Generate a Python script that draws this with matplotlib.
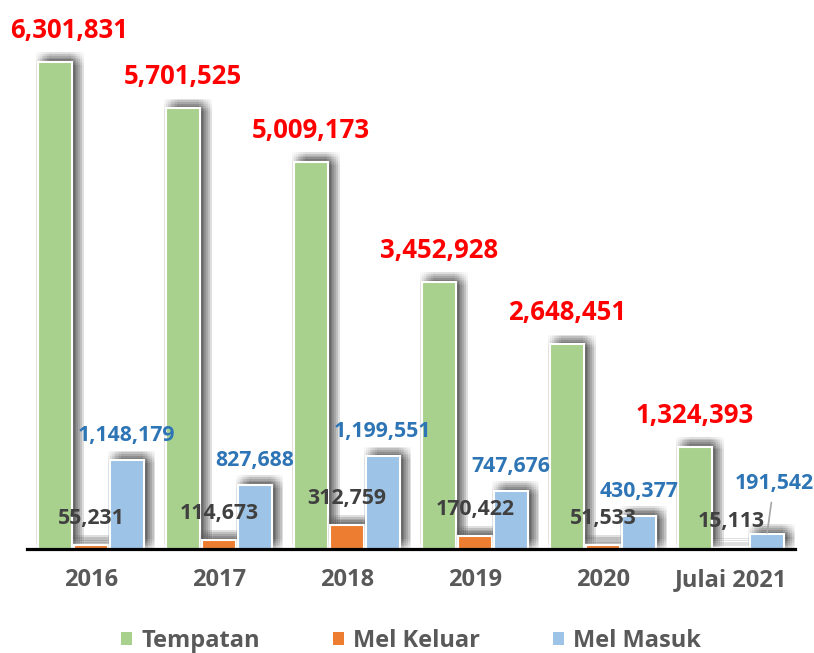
import matplotlib
matplotlib.use("Agg")
import matplotlib.pyplot as plt
from matplotlib import patheffects as pe
from matplotlib.patches import Rectangle
import numpy as np

categories = ['2016', '2017', '2018', '2019', '2020', 'Julai 2021']
tempatan = [6301831, 5701525, 5009173, 3452928, 2648451, 1324393]
mel_keluar = [55231, 114673, 312759, 170422, 51533, 15113]
mel_masuk = [1148179, 827688, 1199551, 747676, 430377, 191542]
series_names = ['Tempatan', 'Mel Keluar', 'Mel Masuk']

c_green = '#A9D18E'
c_orange = '#ED7D31'
c_blue = '#9DC3E6'

plt.rcParams['font.family'] = ['Open Sans', 'DejaVu Sans']
plt.rcParams['font.weight'] = 'bold'

W, H = 814, 653
fig = plt.figure(figsize=(W / 100, H / 100), dpi=100)
ax = fig.add_axes([27 / W, (H - 549) / H, 768 / W, 541 / H])

x = np.arange(len(categories))
bw = 0.272
off = 0.281

shadow = []
steps = np.linspace(-4.5, 4.5, 8)
for dx in steps:
    for dy in steps:
        shadow.append(pe.SimplePatchShadow(offset=(3.5 + dx, 2.5 + dy),
                                           shadow_rgbFace='black', alpha=0.014))
shadow.append(pe.Normal())

for i, (vals, col) in enumerate(zip([tempatan, mel_keluar, mel_masuk],
                                    [c_green, c_orange, c_blue])):
    b = ax.bar(x + (i - 1) * off, vals, width=bw, color=col,
               edgecolor='white', linewidth=1.5, zorder=2)
    for p in b:
        p.set_path_effects(shadow)

ax.set_xlim(-0.5, len(categories) - 0.5)
ax.set_ylim(0, 7e6)

for s in ['left', 'right', 'top']:
    ax.spines[s].set_visible(False)
ax.spines['bottom'].set_linewidth(2.3)
ax.spines['bottom'].set_color('black')
ax.spines['bottom'].set_zorder(5)
ax.set_yticks([])
ax.set_xticks(x)
ax.set_xticklabels(categories, fontsize=17, color='#595959', fontweight='bold')
ax.tick_params(axis='x', length=0, pad=14)

def fmt(v):
    return f"{v:,}"

# Tempatan labels (red)
for i, v in enumerate(tempatan):
    dxp = 14 if i == 0 else 0
    ax.annotate(fmt(v), xy=(x[i] - off, v), xytext=(dxp, 24),
                textcoords='offset pixels', ha='center', va='baseline',
                fontsize=18.5, fontweight='bold', color='#FF0000',
                annotation_clip=False, zorder=6)

# Mel Keluar labels (dark gray)
for i, v in enumerate(mel_keluar):
    ax.annotate(fmt(v), xy=(x[i], v), xytext=(0, 21),
                textcoords='offset pixels', ha='center', va='baseline',
                fontsize=15.3, fontweight='bold', color='#404040',
                annotation_clip=False, zorder=6)

# Mel Masuk labels (blue)
for i, v in enumerate(mel_masuk):
    if i == len(mel_masuk) - 1:
        ax.annotate(fmt(v), xy=(x[i] + off, v), xytext=(7, 45),
                    textcoords='offset pixels', ha='center', va='baseline',
                    fontsize=15.3, fontweight='bold', color='#2E75B6',
                    annotation_clip=False, zorder=6,
                    arrowprops=dict(arrowstyle='-', color='#A6A6A6', lw=1.2,
                                    shrinkA=4, shrinkB=1))
    else:
        ax.annotate(fmt(v), xy=(x[i] + off, v), xytext=(0, 19),
                    textcoords='offset pixels', ha='center', va='baseline',
                    fontsize=15.3, fontweight='bold', color='#2E75B6',
                    annotation_clip=False, zorder=6)

handles = [Rectangle((0, 0), 1, 1, facecolor=c, edgecolor='none')
           for c in [c_green, c_orange, c_blue]]
leg = fig.legend(handles, series_names, loc='center', ncol=3,
                 bbox_to_anchor=(0.505, (H - 641) / H), frameon=False,
                 handlelength=0.45, handleheight=0.45, handletextpad=0.4,
                 columnspacing=3.1, prop={'size': 17, 'weight': 'bold'})
for t in leg.get_texts():
    t.set_color('#595959')

fig.savefig('out.png', dpi=100)
